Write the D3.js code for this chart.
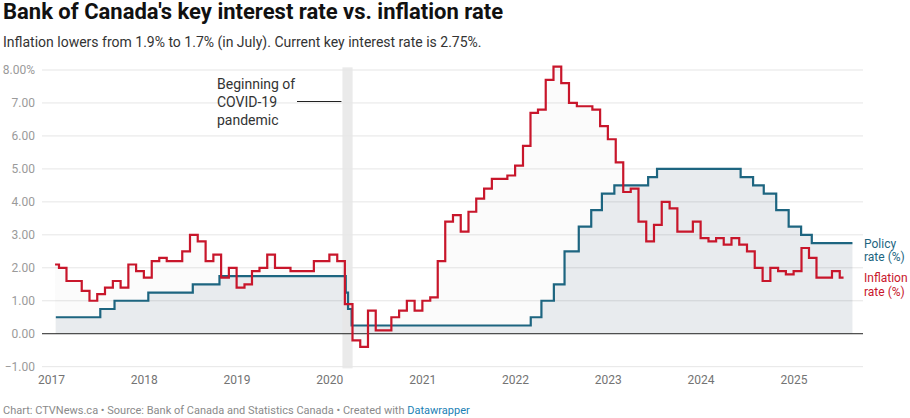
<!DOCTYPE html>
<html>
<head>
<meta charset="utf-8">
<script src="https://cdn.jsdelivr.net/npm/d3@7"></script>
<style>
  body { margin: 0; background: #fff; font-family: Roboto, "Noto Sans", sans-serif; }
  svg text { font-family: Roboto, "Noto Sans", sans-serif; }
</style>
</head>
<body>
<div id="chart"></div>
<script>
// monthly CPI, y/y %, Jan 2017 - Jul 2025
const cpiValues = [
  2.1, 2.0, 1.6, 1.6, 1.3, 1.0, 1.2, 1.4, 1.6, 1.4, 2.1, 1.9,
  1.7, 2.2, 2.3, 2.2, 2.2, 2.5, 3.0, 2.8, 2.2, 2.4, 1.7, 2.0,
  1.4, 1.5, 1.9, 2.0, 2.4, 2.0, 2.0, 1.9, 1.9, 1.9, 2.2, 2.2,
  2.4, 2.2, 0.9, -0.2, -0.4, 0.7, 0.1, 0.1, 0.5, 0.7, 1.0, 0.7,
  1.0, 1.1, 2.2, 3.4, 3.6, 3.1, 3.7, 4.1, 4.4, 4.7, 4.7, 4.8,
  5.1, 5.7, 6.7, 6.8, 7.7, 8.1, 7.6, 7.0, 6.9, 6.9, 6.8, 6.3,
  5.9, 5.2, 4.3, 4.4, 3.4, 2.8, 3.3, 4.0, 3.8, 3.1, 3.1, 3.4,
  2.9, 2.8, 2.9, 2.7, 2.9, 2.7, 2.5, 2.0, 1.6, 2.0, 1.9, 1.8,
  1.9, 2.6, 2.3, 1.7, 1.7, 1.9, 1.7
];

// Bank of Canada policy rate decisions
const policyDates = [
  "2017-01-18", "2017-07-12", "2017-09-06", "2018-01-17", "2018-07-11", "2018-10-24",
  "2020-03-04", "2020-03-13", "2020-03-27", "2022-03-02", "2022-04-13", "2022-06-01",
  "2022-07-13", "2022-09-07", "2022-10-26", "2022-12-07", "2023-01-25", "2023-06-07",
  "2023-07-12", "2024-06-05", "2024-07-24", "2024-09-04", "2024-10-23", "2024-12-11",
  "2025-01-29", "2025-03-12", "2025-08-19"
];
const policyRates = [
  0.50, 0.75, 1.00, 1.25, 1.50, 1.75,
  1.25, 0.75, 0.25, 0.50, 1.00, 1.50,
  2.50, 3.25, 3.75, 4.25, 4.50, 4.75,
  5.00, 4.75, 4.50, 4.25, 3.75, 3.25,
  3.00, 2.75, 2.75
];

const yTicks = [-1, 0, 1, 2, 3, 4, 5, 6, 7, 8];
const xTicks = [2017, 2018, 2019, 2020, 2021, 2022, 2023, 2024, 2025];
const covidBand = ["2020-02-20", "2020-03-31"];
const annotationLines = ["Beginning of", "COVID-19", "pandemic"];

let width = 910, height = 418;
let plotLeft = 42, plotRight = 863;
let parse = d3.timeParse("%Y-%m-%d");

let cpiData = cpiValues.map(function(v, i) {
  return { date: d3.timeDay.offset(d3.timeMonth.offset(new Date(2017, 0, 1), i), 14), value: v };
});
let policyData = policyDates.map(function(d, i) {
  return { date: parse(d), value: policyRates[i] };
});

let x = d3.scaleTime()
          .domain([new Date(2017, 0, 1), new Date(2025, 0, 1)])
          .range([51.5, 794]);
let y = d3.scaleLinear()
          .domain([-1, 8])
          .range([366.7, 70]);

let svg = d3.select("#chart")
            .append("svg")
            .attr("width", width)
            .attr("height", height);

// title + subtitle
svg.append("text")
   .attr("x", 3).attr("y", 19)
   .style("font-size", "22px").style("font-weight", 700).style("fill", "#111")
   .text("Bank of Canada's key interest rate vs. inflation rate");
svg.append("text")
   .attr("x", 3).attr("y", 47)
   .style("font-size", "14px").style("fill", "#333")
   .text("Inflation lowers from 1.9% to 1.7% (in July). Current key interest rate is 2.75%.");

// areas
let cpiArea = d3.area()
                .curve(d3.curveStep)
                .x(function(d){ return x(d.date); })
                .y0(y(0))
                .y1(function(d){ return y(d.value); });
svg.append("path")
   .datum(cpiData)
   .attr("d", cpiArea)
   .style("fill", "#f2f2f2")
   .style("opacity", 0.3);

let policyArea = d3.area()
                   .curve(d3.curveStepAfter)
                   .x(function(d){ return x(d.date); })
                   .y0(y(0))
                   .y1(function(d){ return y(d.value); });
svg.append("path")
   .datum(policyData)
   .attr("d", policyArea)
   .style("fill", "#e8ebee");

// gridlines
svg.selectAll("line.grid")
   .data(yTicks.filter(function(d){ return d !== 0; }))
   .enter()
   .append("line")
   .attr("class", "grid")
   .attr("x1", plotLeft).attr("x2", plotRight)
   .attr("y1", function(d){ return y(d); })
   .attr("y2", function(d){ return y(d); })
   .style("stroke", "rgba(0,0,0,0.1)")
   .style("stroke-width", 1);

// covid band
svg.append("rect")
   .attr("x", x(parse(covidBand[0])))
   .attr("width", x(parse(covidBand[1])) - x(parse(covidBand[0])))
   .attr("y", y(8.08))
   .attr("height", y(-1.05) - y(8.08))
   .style("fill", "#e6e6e6")
   .style("opacity", 0.85);

// zero line
svg.append("line")
   .attr("x1", plotLeft).attr("x2", plotRight)
   .attr("y1", y(0)).attr("y2", y(0))
   .style("stroke", "#222").style("stroke-width", 1);

// y labels
svg.selectAll("text.ylab")
   .data(yTicks)
   .enter()
   .append("text")
   .attr("class", "ylab")
   .attr("x", 35)
   .attr("y", function(d){ return y(d); })
   .attr("dy", "0.35em")
   .attr("text-anchor", "end")
   .style("font-size", "12px")
   .style("fill", "#9a9a9a")
   .text(function(d){
     let s = Math.abs(d).toFixed(2);
     if (d < 0) s = "\u2212" + s;
     return d === 8 ? s + "%" : s;
   });

// x labels
svg.selectAll("text.xlab")
   .data(xTicks)
   .enter()
   .append("text")
   .attr("class", "xlab")
   .attr("x", function(d){ return x(new Date(d, 0, 1)); })
   .attr("y", 384)
   .attr("text-anchor", "middle")
   .style("font-size", "12px")
   .style("fill", "#737373")
   .text(function(d){ return d; });

// lines
let cpiLine = d3.line()
                .curve(d3.curveStep)
                .x(function(d){ return x(d.date); })
                .y(function(d){ return y(d.value); });
let policyLine = d3.line()
                   .curve(d3.curveStepAfter)
                   .x(function(d){ return x(d.date); })
                   .y(function(d){ return y(d.value); });

svg.append("path")
   .datum(policyData)
   .attr("d", policyLine)
   .style("fill", "none")
   .style("stroke", "#1d6580")
   .style("stroke-width", 2.2);

svg.append("path")
   .datum(cpiData)
   .attr("d", cpiLine)
   .style("fill", "none")
   .style("stroke", "#c8162b")
   .style("stroke-width", 2.2);

// series labels
let lastPolicy = policyRates[policyRates.length - 1];
let lastCpi = cpiValues[cpiValues.length - 1];
[["Policy", "rate (%)", lastPolicy, "#1d6580"], ["Inflation", "rate (%)", lastCpi, "#c8162b"]]
  .forEach(function(l){
    svg.append("text")
       .attr("x", 864).attr("y", y(l[2]) + 4.5)
       .style("font-size", "12px").style("fill", l[3])
       .text(l[0]);
    svg.append("text")
       .attr("x", 864).attr("y", y(l[2]) + 18)
       .style("font-size", "12px").style("fill", l[3])
       .text(l[1]);
  });

// annotation
svg.selectAll("text.anno")
   .data(annotationLines)
   .enter()
   .append("text")
   .attr("class", "anno")
   .attr("x", 217)
   .attr("y", function(d, i){ return 88.5 + i * 18; })
   .style("font-size", "14px")
   .style("fill", "#333")
   .text(function(d){ return d; });
svg.append("line")
   .attr("x1", 297).attr("x2", x(parse(covidBand[0])) - 1)
   .attr("y1", 101.5).attr("y2", 101.5)
   .style("stroke", "#222").style("stroke-width", 1);

// footer
let foot = svg.append("text")
              .attr("x", 3).attr("y", 414)
              .style("font-size", "11px").style("fill", "#8a8a8a");
foot.append("tspan").text("Chart: CTVNews.ca \u2022 Source: Bank of Canada and Statistics Canada \u2022 Created with ");
foot.append("tspan").style("fill", "#1a7fb5").text("Datawrapper");
</script>
</body>
</html>
